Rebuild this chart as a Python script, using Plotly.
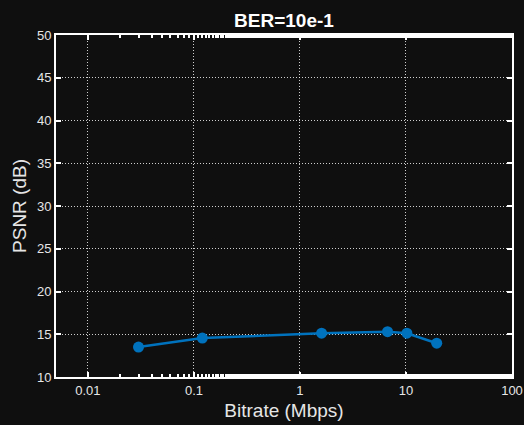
import math
import plotly.graph_objects as go

bitrate_mbps = [0.03, 0.12, 1.6, 6.7, 10.2, 19.5]
psnr_db = [13.5, 14.55, 15.12, 15.3, 15.12, 13.95]

x_ticks = [0.01, 0.1, 1, 10, 100]
x_tick_labels = ["0.01", "0.1", "1", "10", "100"]
y_ticks = [10, 15, 20, 25, 30, 35, 40, 45, 50]

bg = "#0f0f0f"
fg = "#e6e6e6"

fig = go.Figure()
fig.add_trace(go.Scatter(
    x=bitrate_mbps,
    y=psnr_db,
    mode="lines+markers",
    line=dict(color="#0072BD", width=2.5),
    marker=dict(color="#0072BD", size=11),
    showlegend=False,
))

axis_common = dict(
    showline=True,
    linecolor="#ffffff",
    linewidth=2,
    mirror="allticks",
    ticks="inside",
    ticklen=5,
    tickcolor="#ffffff",
    tickwidth=1.5,
    showgrid=True,
    gridcolor="rgba(255,255,255,0.8)",
    griddash="1px,2px",
    gridwidth=1,
    zeroline=False,
    automargin=False,
    tickfont=dict(size=13, color=fg),
)

fig.update_layout(
    width=524,
    height=425,
    paper_bgcolor=bg,
    plot_bgcolor=bg,
    font=dict(family="Liberation Sans, Arial, sans-serif", color=fg),
    title=dict(text="<b>BER=10e-1</b>", xref="paper", x=0.5, xanchor="center",
               y=1 - 20 / 425, yanchor="middle", font=dict(size=19, color="#ffffff")),
    margin=dict(l=56, r=12, t=35, b=48),
    xaxis=dict(
        type="log",
        range=[math.log10(0.005), 2],
        tickvals=x_ticks,
        ticktext=x_tick_labels,
        title=dict(text="Bitrate (Mbps)", font=dict(size=19, color=fg), standoff=7),
        minor=dict(ticks="inside", ticklen=3, tickcolor="#ffffff", showgrid=False),
        **axis_common,
    ),
    yaxis=dict(
        range=[10, 50],
        tickvals=y_ticks,
        title=dict(text="PSNR (dB)", font=dict(size=19, color=fg), standoff=5),
        **axis_common,
    ),
)

fig.write_html(
    "out.html",
    config={"displayModeBar": False},
    post_script="document.body.style.margin='0';document.body.style.background='#0f0f0f';",
)
